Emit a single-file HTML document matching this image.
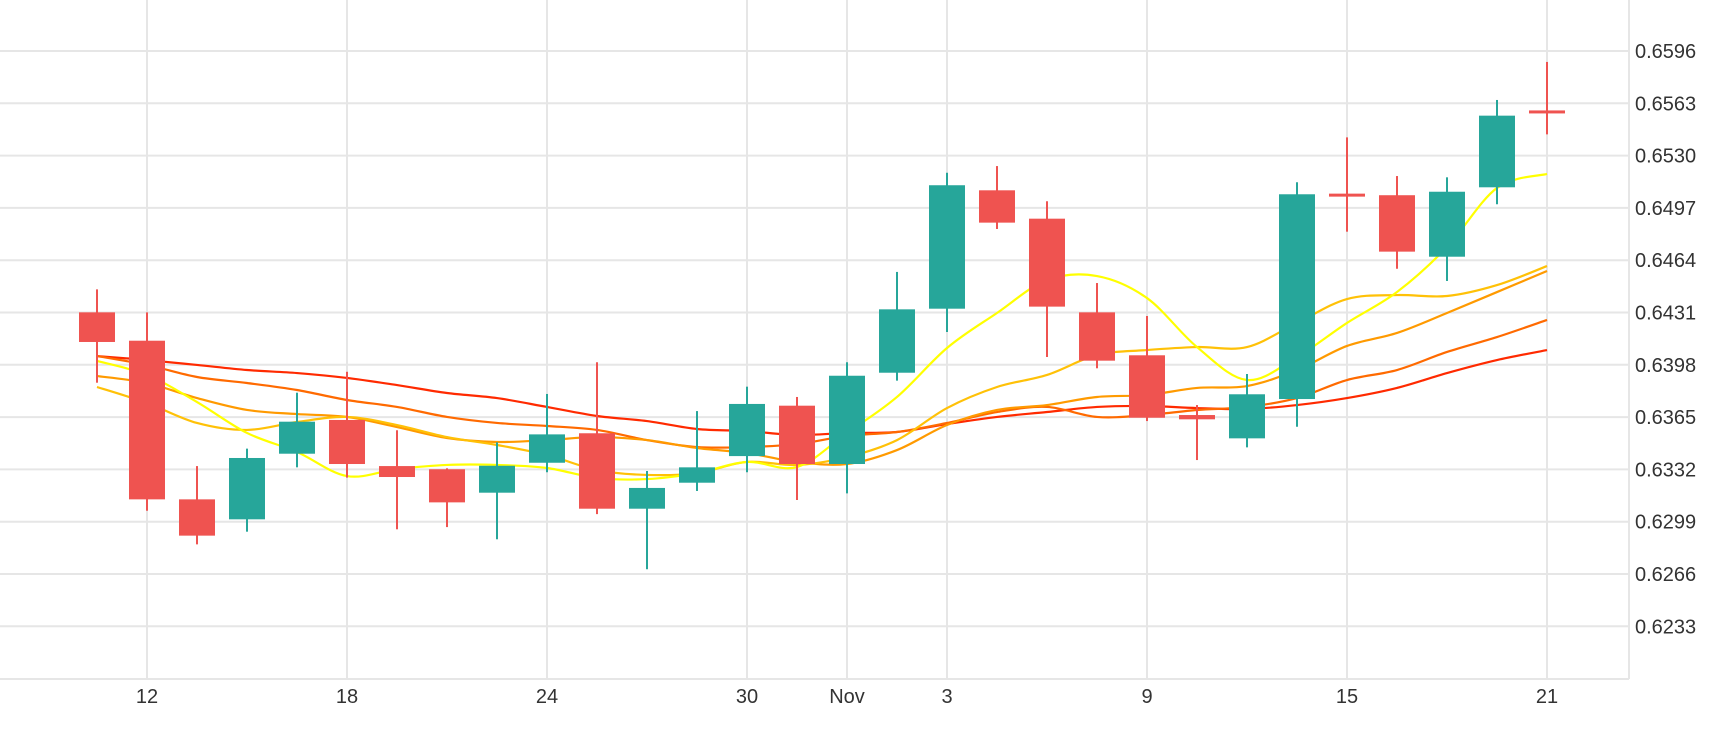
<!DOCTYPE html>
<html><head><meta charset="utf-8">
<style>
html,body{margin:0;padding:0;background:#fff;}
svg{display:block;font-family:"Liberation Sans",sans-serif;}
</style></head>
<body>
<svg id="chart" width="1730" height="730" viewBox="0 0 1730 730" xmlns="http://www.w3.org/2000/svg">
<g id="grid"></g>
<g id="mas"></g>
<g id="candles"></g>
<g id="axes"></g>
</svg>
<script>
const openV=[0.64311,0.64132,0.63131,0.63005,0.63419,0.63632,0.63341,0.63321,0.63173,0.63362,0.63548,0.63072,0.63236,0.63404,0.63722,0.63354,0.63930,0.64334,0.65081,0.64902,0.64311,0.64040,0.63663,0.63516,0.63764,0.65060,0.65050,0.64662,0.65100,0.65585];
const highV=[0.64456,0.64311,0.63341,0.63451,0.63804,0.63936,0.63567,0.63327,0.63491,0.63796,0.63996,0.63310,0.63688,0.63842,0.63777,0.63996,0.64566,0.65192,0.65234,0.65012,0.64496,0.64288,0.63726,0.63922,0.65132,0.65415,0.65171,0.65163,0.65651,0.65891];
const lowV=[0.63867,0.63059,0.62847,0.62927,0.63333,0.63268,0.62942,0.62956,0.62879,0.63302,0.63038,0.62690,0.63184,0.63302,0.63127,0.63169,0.63880,0.64187,0.64837,0.64029,0.63958,0.63625,0.63379,0.63459,0.63589,0.64820,0.64586,0.64509,0.64993,0.65434];
const closeV=[0.64124,0.63131,0.62902,0.63392,0.63621,0.63354,0.63272,0.63112,0.63343,0.63541,0.63072,0.63203,0.63333,0.63733,0.63354,0.63911,0.64330,0.65113,0.64877,0.64347,0.64006,0.63646,0.63636,0.63794,0.65056,0.65050,0.64694,0.65072,0.65552,0.65578];
const maYellow=[0.64004,0.63916,0.63745,0.63550,0.63430,0.63278,0.63322,0.63348,0.63348,0.63329,0.63266,0.63259,0.63297,0.63367,0.63335,0.63550,0.63777,0.64086,0.64307,0.64515,0.64540,0.64401,0.64092,0.63884,0.64029,0.64244,0.64439,0.64723,0.65096,0.65184];
const maLightOrange=[0.63840,0.63739,0.63613,0.63569,0.63619,0.63651,0.63600,0.63524,0.63474,0.63411,0.63316,0.63285,0.63297,0.63367,0.63348,0.63398,0.63505,0.63707,0.63840,0.63916,0.64042,0.64073,0.64092,0.64092,0.64244,0.64395,0.64420,0.64414,0.64483,0.64603];
const maOrange=[0.63909,0.63865,0.63770,0.63695,0.63669,0.63651,0.63587,0.63518,0.63493,0.63505,0.63524,0.63505,0.63455,0.63423,0.63367,0.63354,0.63442,0.63600,0.63695,0.63726,0.63777,0.63789,0.63834,0.63846,0.63947,0.64099,0.64181,0.64307,0.64439,0.64572];
const maDarkOrange=[0.64035,0.63979,0.63903,0.63865,0.63821,0.63758,0.63714,0.63651,0.63613,0.63594,0.63569,0.63505,0.63461,0.63461,0.63480,0.63531,0.63556,0.63613,0.63682,0.63714,0.63651,0.63663,0.63695,0.63714,0.63770,0.63884,0.63947,0.64061,0.64155,0.64263];
const maRed=[0.64035,0.64010,0.63979,0.63947,0.63928,0.63897,0.63852,0.63802,0.63770,0.63714,0.63657,0.63625,0.63575,0.63562,0.63537,0.63550,0.63556,0.63606,0.63651,0.63682,0.63714,0.63720,0.63707,0.63701,0.63726,0.63770,0.63834,0.63928,0.64010,0.64073];
const yTicks=[0.6596,0.6563,0.6530,0.6497,0.6464,0.6431,0.6398,0.6365,0.6332,0.6299,0.6266,0.6233];
const xTickIdx=[1,5,9,13,15,17,21,25,29];
const xTickLabels=["12","18","24","30","Nov","3","9","15","21"];

const NS="http://www.w3.org/2000/svg";
const PR=1629, PB=679;
function xS(i){return 97+50*i;}
function yS(v){return 51+(0.6596-v)*(52.3/0.0033);}
function mk(tag,attrs,parent){const e=document.createElementNS(NS,tag);for(const k in attrs)e.setAttribute(k,attrs[k]);parent.appendChild(e);return e;}

const grid=document.getElementById('grid');
yTicks.forEach(v=>{
  const l=mk('line',{x1:0,x2:PR,y1:yS(v),y2:yS(v),stroke:'#e6e6e6','stroke-width':2},grid);
  
  
});
xTickIdx.forEach(i=>{
  const l=mk('line',{x1:xS(i),x2:xS(i),y1:0,y2:PB,stroke:'#e6e6e6','stroke-width':2},grid);
  
  
});
const axes=document.getElementById('axes');
const rb=mk('line',{x1:PR,x2:PR,y1:0,y2:PB,stroke:'#e6e6e6','stroke-width':2},axes);


const bb=mk('line',{x1:0,x2:PR,y1:PB,y2:PB,stroke:'#e6e6e6','stroke-width':2},axes);


yTicks.forEach(v=>{
  const t=mk('text',{x:1635,y:yS(v)+7,'font-size':20,fill:'#333'},axes);
  t.textContent=v.toFixed(4);
  
  
});
xTickIdx.forEach((i,k)=>{
  const t=mk('text',{x:xS(i),y:703,'font-size':20,fill:'#333','text-anchor':'middle'},axes);
  t.textContent=xTickLabels[k];
  
  
});

function smoothPath(arr){
  const p=arr.map((v,i)=>[xS(i),yS(v)]);
  let d='M'+p[0][0]+','+p[0][1];
  for(let i=0;i<p.length-1;i++){
    const p0=p[i-1]||p[i],p1=p[i],p2=p[i+1],p3=p[i+2]||p2;
    const c1=[p1[0]+(p2[0]-p0[0])/6,p1[1]+(p2[1]-p0[1])/6];
    const c2=[p2[0]-(p3[0]-p1[0])/6,p2[1]-(p3[1]-p1[1])/6];
    d+=' C'+c1[0]+','+c1[1]+' '+c2[0]+','+c2[1]+' '+p2[0]+','+p2[1];
  }
  return d;
}
const mas=document.getElementById('mas');
const maList=[[maRed,'#ff2a00','ma-red'],[maDarkOrange,'#ff6a00','ma-dark-orange'],[maOrange,'#ff9a00','ma-orange'],[maLightOrange,'#ffc107','ma-light-orange'],[maYellow,'#ffff00','ma-yellow']];
maList.forEach(m=>{
  const p=mk('path',{d:smoothPath(m[0]),fill:'none',stroke:m[1],'stroke-width':2.2},mas);
  
  
});

const cg=document.getElementById('candles');
openV.forEach((o,i)=>{
  const c=closeV[i],up=c>=o,col=up?'#26a69a':'#ef5350';
  const g=mk('g',{},cg);
  
  
  mk('line',{x1:xS(i),x2:xS(i),y1:yS(highV[i]),y2:yS(lowV[i]),stroke:col,'stroke-width':2},g);
  const top=yS(Math.max(o,c)),bot=yS(Math.min(o,c));
  mk('rect',{x:xS(i)-18,y:top,width:36,height:Math.max(bot-top,3),fill:col},g);
});
</script>
</body></html>
